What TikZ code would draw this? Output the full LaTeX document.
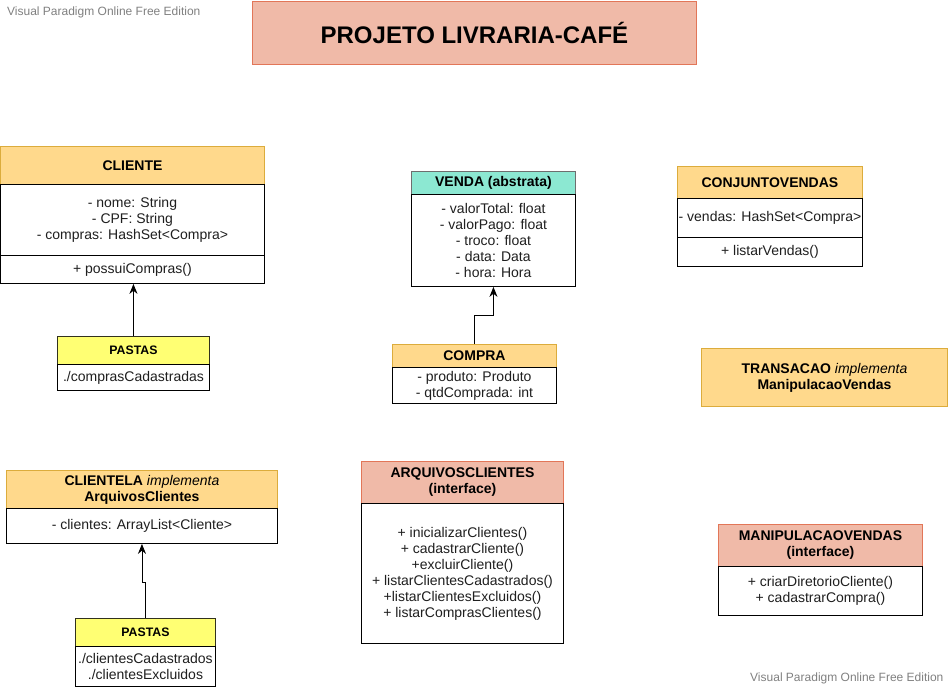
\documentclass[tikz,border=0pt]{standalone}
\usepackage{fontspec}
\setmainfont{Liberation Sans}
\usetikzlibrary{arrows.meta}

\definecolor{salmonfill}{RGB}{240,186,168}
\definecolor{salmonline}{RGB}{226,118,88}
\definecolor{orangefill}{RGB}{255,217,140}
\definecolor{orangeline}{RGB}{220,172,60}
\definecolor{yellowfill}{RGB}{255,255,115}
\definecolor{yellowline}{RGB}{50,50,30}
\definecolor{mintfill}{RGB}{140,232,210}
\definecolor{mintline}{RGB}{110,110,110}
\definecolor{marktext}{RGB}{128,128,128}

\begin{document}
\begin{tikzpicture}[x=1pt,y=-1pt,
  box/.style={draw=black, line width=0.9pt, fill=white, anchor=north west,
    inner sep=0pt, align=center, text=black!88,
    font=\fontsize{14}{16}\selectfont},
  hdr/.style={box, text=black, font=\bfseries\fontsize{14}{16}\selectfont},
  salmonhdr/.style={hdr, fill=salmonfill, draw=salmonline},
  orangehdr/.style={hdr, fill=orangefill, draw=orangeline},
  yellowhdr/.style={hdr, fill=yellowfill, draw=yellowline,
    font=\bfseries\fontsize{12.3}{14}\selectfont},
  minthdr/.style={hdr, fill=mintfill, draw=mintline},
  arr/.style={draw=black, line width=0.9pt, -{Stealth[length=10pt,width=8pt]}},
  editionmark/.style={anchor=west, inner sep=0pt, text=marktext,
    font=\fontsize{12}{14}\selectfont}
]
\useasboundingbox (0,0) rectangle (948,688);

% title
\node[salmonhdr, minimum width=444pt, minimum height=63pt,
  font=\bfseries\fontsize{24}{28}\selectfont] (title) at (252,1) {PROJETO LIVRARIA-CAFÉ};

% CLIENTE
\node[orangehdr, minimum width=264pt, minimum height=38pt] (cliH) at (0,146) {CLIENTE};
\node[box, minimum width=264pt, minimum height=71pt] (cliA) at (0,184)
  {- nome: String\\- CPF: String\\- compras: HashSet<Compra>};
\node[box, minimum width=264pt, minimum height=28pt] (cliM) at (0,255) {+ possuiCompras()};

% PASTAS of CLIENTE
\node[yellowhdr, minimum width=152pt, minimum height=28pt] (p1H) at (57,336) {PASTAS};
\node[box, minimum width=152pt, minimum height=26pt] (p1B) at (57,364) {./comprasCadastradas};

% VENDA
\node[minthdr, minimum width=164pt, minimum height=23pt] (venH) at (411,171) {VENDA (abstrata)};
\node[box, minimum width=164pt, minimum height=92pt] (venB) at (411,194)
  {- valorTotal: float\\- valorPago: float\\- troco: float\\- data: Data\\- hora: Hora};

% COMPRA
\node[orangehdr, minimum width=164pt, minimum height=23pt] (comH) at (392,344) {COMPRA};
\node[box, minimum width=164pt, minimum height=36pt] (comB) at (392,367)
  {- produto: Produto\\- qtdComprada: int};

% CONJUNTOVENDAS
\node[orangehdr, minimum width=185pt, minimum height=32pt] (cjH) at (677,166) {CONJUNTOVENDAS};
\node[box, minimum width=185pt, minimum height=39pt] (cjA) at (677,198) {- vendas: HashSet<Compra>};
\node[box, minimum width=185pt, minimum height=29pt] (cjM) at (677,237) {+ listarVendas()};

% TRANSACAO
\node[orangehdr, minimum width=246pt, minimum height=58pt] (tra) at (701,348)
  {TRANSACAO {\mdseries\itshape implementa}\\ManipulacaoVendas};

% CLIENTELA
\node[orangehdr, minimum width=271pt, minimum height=38pt] (clH) at (6,470)
  {CLIENTELA {\mdseries\itshape implementa}\\ArquivosClientes};
\node[box, minimum width=271pt, minimum height=35pt] (clB) at (6,508) {- clientes: ArrayList<Cliente>};

% PASTAS of CLIENTELA
\node[yellowhdr, minimum width=140pt, minimum height=28pt] (p2H) at (75,618) {PASTAS};
\node[box, minimum width=140pt, minimum height=40pt] (p2B) at (75,646)
  {./clientesCadastrados\\./clientesExcluidos};

% ARQUIVOSCLIENTES
\node[salmonhdr, minimum width=202pt, minimum height=42pt] (arH) at (361,461)
  {ARQUIVOSCLIENTES\\(interface)};
\node[box, minimum width=202pt, minimum height=140pt] (arB) at (361,503)
  {+ inicializarClientes()\\+ cadastrarCliente()\\+excluirCliente()\\+ listarClientesCadastrados()\\+listarClientesExcluidos()\\+ listarComprasClientes()};

% MANIPULACAOVENDAS
\node[salmonhdr, minimum width=204pt, minimum height=42pt] (mvH) at (718,524)
  {MANIPULACAOVENDAS\\(interface)};
\node[box, minimum width=204pt, minimum height=49pt] (mvB) at (718,566)
  {+ criarDiretorioCliente()\\+ cadastrarCompra()};

% connectors
\draw[arr] (p1H.north) -- (p1H.north |- cliM.south);
\draw[arr] (comH.north) -- ++(0,-29) -| (venB.south);
\draw[arr] (p2H.north) -- ++(0,-36) -| (clB.south);

% edition marks
\node[editionmark] (markTop) at (7,12) {Visual Paradigm Online Free Edition};
\node[editionmark] (markBottom) at (750,678) {Visual Paradigm Online Free Edition};
\end{tikzpicture}
\end{document}
